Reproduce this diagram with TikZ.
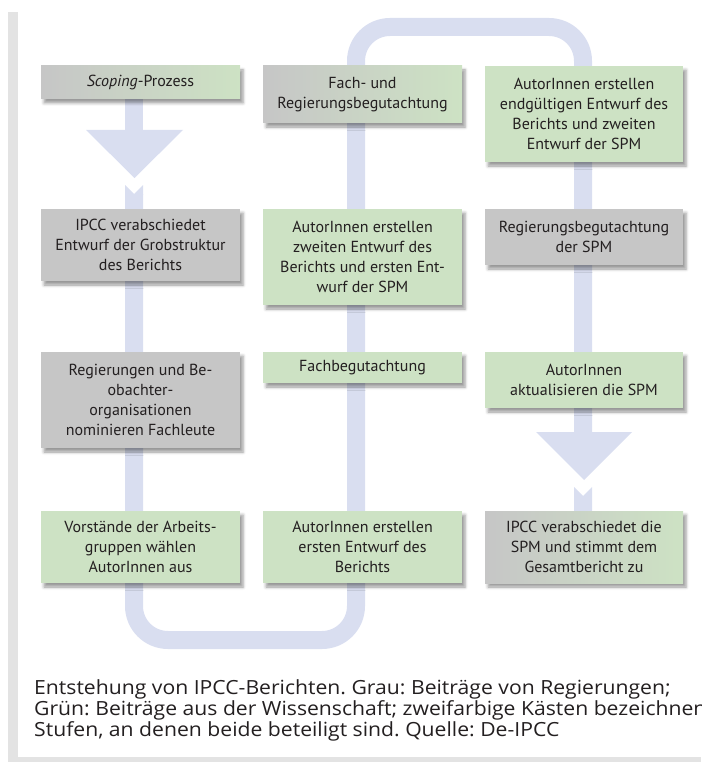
\documentclass[tikz,border=0pt]{standalone}
\usepackage{fontspec}
\setmainfont{PT Sans}
\newfontfamily\capfont[FakeStretch=1.085]{Open Sans}
\usetikzlibrary{shadows.blur}
\definecolor{boxgreen}{RGB}{205,226,196}
\definecolor{boxgray}{RGB}{198,198,198}
\definecolor{band}{RGB}{217,222,240}
\definecolor{framegray}{RGB}{227,227,227}
\definecolor{txt}{RGB}{35,31,32}
\frenchspacing
\begin{document}
\begin{tikzpicture}[x=1pt,y=-1pt,
  stage/.style={minimum width=199pt, inner sep=0pt, align=center,
    font=\fontsize{16}{20}\selectfont, text=txt,
    blur shadow={shadow xshift=3pt,shadow yshift=-4pt,shadow blur radius=3pt,shadow opacity=40}},
  gov/.style={stage, fill=boxgray},
  sci/.style={stage, fill=boxgreen},
  both/.style={stage, left color=boxgray, right color=boxgreen},
  flow/.style={draw=band, line width=18pt, rounded corners=34pt},
  bandfill/.style={fill=band},
]
\useasboundingbox (0,0) rectangle (701,762);
% frame
\fill[framegray] (8,12) rectangle (18,762);
\fill[framegray] (8,757) rectangle (701,762);

% flow band
\coordinate (c1top) at (134,194);
\coordinate (c1bot) at (134,640);
\coordinate (c2bot) at (356,640);
\coordinate (c2top) at (356,27);
\coordinate (c3top) at (583,27);
\coordinate (c3end) at (583,432);
\draw[flow] (c1top) -- (c1bot) -- (c2bot) -- (c2top) -- (c3top) -- (c3end);
\fill[bandfill] (125,185) -- (134,194) -- (143,185) -- (143,195) -- (125,195) -- cycle;
\fill[bandfill] (125,99) rectangle (143,131);
\fill[bandfill] (86,130) -- (183,130) -- (134.5,178) -- cycle;
\fill[bandfill] (536,432) -- (632,432) -- (584,480) -- cycle;
\fill[bandfill] (574,487) -- (583,496) -- (592,487) -- (592,512) -- (574,512) -- cycle;

% boxes
\node[both, minimum height=33pt] (scope) at (140.5,82.5) {\textit{Scoping}-Prozess};
\node[both, minimum height=57pt] (fach) at (362.5,94.5) {Fach- und\\Regierungsbegutachtung};
\node[sci, minimum height=96pt, minimum width=198pt] (final1) at (584,114) {AutorInnen erstellen\\endgültigen Entwurf des\\Berichts und zweiten\\Entwurf der SPM};
\node[gov, minimum height=72pt] (grob) at (140.5,245) {IPCC verabschiedet\\Entwurf der Grobstruktur\\des Berichts};
\node[sci, minimum height=96pt] (zweit) at (362.5,257) {AutorInnen erstellen\\zweiten Entwurf des\\Berichts und ersten Ent-\\wurf der SPM};
\node[gov, minimum height=56pt, minimum width=198pt] (regspm) at (584,237) {Regierungsbegutachtung\\der SPM};
\node[gov, minimum height=96pt] (nomin) at (140.5,400) {Regierungen und Be-\\obachter-\\organisationen\\nominieren Fachleute};
\node[sci, minimum height=31pt] (fachb) at (362.5,367.5) {Fachbegutachtung};
\node[sci, minimum height=56pt, minimum width=198pt] (aktual) at (584,380) {AutorInnen\\aktualisieren die SPM};
\node[sci, minimum height=72pt] (vorst) at (140.5,547) {Vorstände der Arbeits-\\gruppen wählen\\AutorInnen aus};
\node[sci, minimum height=72pt] (erst) at (362.5,547) {AutorInnen erstellen\\ersten Entwurf des\\Berichts};
\node[both, minimum height=72pt, minimum width=198pt] (ipccfin) at (584,547) {IPCC verabschiedet die\\SPM und stimmt dem\\Gesamtbericht zu};

% caption
\node[anchor=north west, inner sep=0pt, align=left, text=txt,
  font=\capfont\fontsize{19.5}{21}\selectfont] (cap) at (34,679)
  {Entstehung von IPCC-Berichten. Grau: Beiträge von Regierungen;\\
   Grün: Beiträge aus der Wissenschaft; zweifarbige Kästen bezeichnen\\
   Stufen, an denen beide beteiligt sind. Quelle: De-IPCC};
\end{tikzpicture}
\end{document}
